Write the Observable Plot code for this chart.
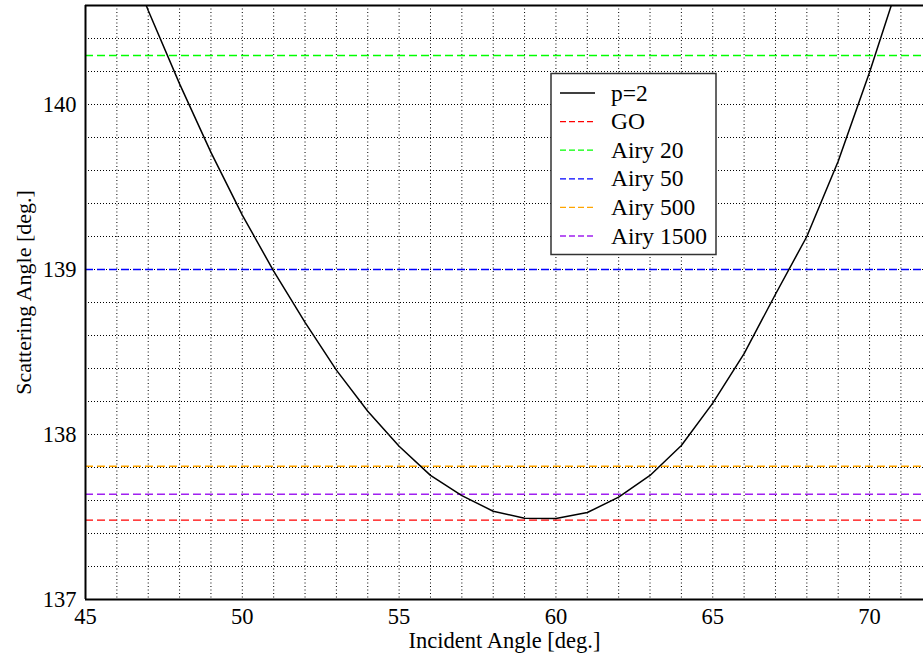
<!DOCTYPE html>
<html>
<head>
<meta charset="utf-8">
<script src="https://cdn.jsdelivr.net/npm/d3@7"></script>
<script src="https://cdn.jsdelivr.net/npm/@observablehq/plot@0.6"></script>
<style>
  html, body { margin: 0; padding: 0; background: white; overflow: hidden; }
  #chart svg { display: block; }
  #chart svg text { font-family: "Liberation Serif", "Times New Roman", "DejaVu Serif", serif !important; }
</style>
</head>
<body>
<div id="chart"></div>
<script>
// ---- data ----
const incidentAngle = [46, 47, 48, 49, 50, 51, 52, 53, 54, 55, 56, 57, 58, 59, 60, 61, 62, 63, 64, 65, 66, 67, 68, 69, 70, 71];
const scatteringAngle = [141.05, 140.57, 140.125, 139.71, 139.33, 138.99, 138.68, 138.39, 138.141, 137.929, 137.752, 137.63, 137.535, 137.493, 137.491, 137.527, 137.62, 137.752, 137.933, 138.19, 138.49, 138.85, 139.2, 139.656, 140.196, 140.78];

const refNames = ["GO", "Airy 20", "Airy 50", "Airy 500", "Airy 1500"];
const refValues = [137.481, 140.297, 139.0, 137.808, 137.638];
const refColors = ["#ff0000", "#00ff00", "#0000ff", "#ffa500", "#a020f0"];

const curveName = "p=2";
const xTicks = [45, 50, 55, 60, 65, 70];
const yTicks = [137, 138, 139, 140];
const xGrid = [46, 47, 48, 49, 50, 51, 52, 53, 54, 55, 56, 57, 58, 59, 60, 61, 62, 63, 64, 65, 66, 67, 68, 69, 70, 71];
const yGrid = [137.2, 137.4, 137.6, 137.8, 138, 138.2, 138.4, 138.6, 138.8, 139, 139.2, 139.4, 139.6, 139.8, 140, 140.2, 140.4];
const xDomain = [45, 71.72];
const yDomain = [137, 140.6];
const xLabel = "Incident Angle [deg.]";
const yLabel = "Scattering Angle [deg.]";

// ---- tables built from the arrays ----
const curve = incidentAngle.map((x, i) => ({x, y: scatteringAngle[i]}));
const refs = refNames.map((name, i) => ({name, value: refValues[i], color: refColors[i]}));

const FONT = "Liberation Serif, Times New Roman, serif";

const chart = Plot.plot({
  width: 923,
  height: 657,
  marginLeft: 85,
  marginRight: 0,
  marginTop: 5,
  marginBottom: 58,
  style: "font-family: Liberation Serif, serif; font-size: 22px; background: white; color: black;",
  x: {domain: xDomain, ticks: xTicks, tickSize: 0, tickPadding: 9, tickFormat: d => String(d), label: null},
  y: {domain: yDomain, ticks: yTicks, tickSize: 0, tickPadding: 9, tickFormat: d => String(d), label: null},
  marks: [
    Plot.ruleX(xGrid, {stroke: "black", strokeWidth: 1, strokeDasharray: "1,2.5"}),
    Plot.ruleY(yGrid, {stroke: "black", strokeWidth: 1, strokeDasharray: "1,2"}),
    Plot.ruleY(refs, {y: "value", stroke: "color", strokeWidth: 1.4, strokeDasharray: "8,4"}),
    Plot.line(curve, {x: "x", y: "y", stroke: "black", strokeWidth: 1.5, clip: true}),
    Plot.ruleX([xDomain[0]], {stroke: "black", strokeWidth: 2}),
    Plot.ruleY([yDomain[0], yDomain[1]], {stroke: "black", strokeWidth: 2}),
    Plot.text([xLabel], {frameAnchor: "bottom", textAnchor: "middle", lineAnchor: "middle", dy: 41, fontSize: 22.5, fill: "black"}),
    Plot.text([yLabel], {frameAnchor: "left", textAnchor: "middle", lineAnchor: "middle", rotate: -90, dx: -62, dy: -10, fontSize: 22, fill: "black"})
  ]
});

const svg = d3.select(chart.tagName.toLowerCase() === "svg" ? chart : chart.querySelector("svg"));
svg.selectAll("text").attr("font-family", FONT).attr("fill", "black");
svg.selectAll("g[aria-label='x-axis tick label'] text, g[aria-label='y-axis tick label'] text, g[aria-label='x-axis'] text, g[aria-label='y-axis'] text")
  .attr("font-size", 22.5);

// ---- legend ----
const legendItems = [{name: curveName, color: "black", dash: null}].concat(
  refs.map(r => ({name: r.name, color: r.color, dash: "6,3"}))
);
const lg = svg.append("g").attr("font-family", FONT).attr("font-size", 23.5).attr("text-anchor", "start");
lg.append("rect").attr("x", 551).attr("y", 73.5).attr("width", 165).attr("height", 181)
  .attr("fill", "white").attr("stroke", "#333").attr("stroke-width", 1.5);
legendItems.forEach((d, i) => {
  const cy = 93 + i * 28.6;
  lg.append("line").attr("x1", 560).attr("x2", 595).attr("y1", cy).attr("y2", cy)
    .attr("stroke", d.color).attr("stroke-width", 1.3)
    .attr("stroke-dasharray", d.dash);
  lg.append("text").attr("x", 611).attr("y", cy).attr("dy", "0.32em")
    .attr("text-anchor", "start").attr("fill", "black").text(d.name);
});

document.getElementById("chart").appendChild(chart);
</script>
</body>
</html>
